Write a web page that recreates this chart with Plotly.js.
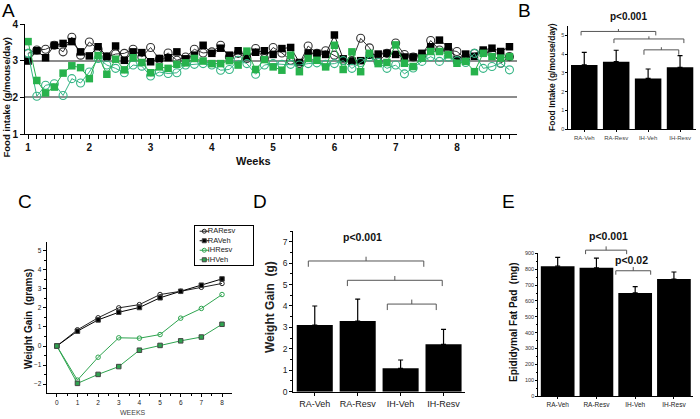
<!DOCTYPE html>
<html><head><meta charset="utf-8">
<script src="https://cdn.plot.ly/plotly-3.0.1.min.js"></script>
<style>html,body{margin:0;padding:0;background:#fff}#chart{width:700px;height:419px}</style>
</head><body><div id="chart"></div>
<script>
const FONT = 'Liberation Sans, Arial, sans-serif';

// ---------- Panel A: daily food intake (g/mouse/day) ----------
const aDayIndex = [0,1,2,3,4,5,6,7,8,9,10,11,12,13,14,15,16,17,18,19,20,21,22,23,24,25,26,27,
  28,29,30,31,32,33,34,35,36,37,38,39,40,41,42,43,44,45,46,47,48,49,50,51,52,53,54,55];
const aRAVeh  = [2.99,3.27,3.08,3.42,3.47,3.52,3.24,3.13,3.38,3.12,3.40,3.01,3.24,3.22,2.97,3.06,3.08,3.24,3.05,3.15,3.42,3.20,3.34,3.15,3.27,3.11,3.23,3.27,3.17,3.33,3.36,2.95,3.21,3.20,3.17,3.70,3.05,2.99,3.00,3.15,3.18,3.20,3.17,3.10,3.10,3.20,3.38,3.56,3.38,3.02,3.18,3.12,3.29,3.34,3.25,3.38];
const aRAResv = [3.20,3.29,3.31,3.42,3.24,3.64,3.15,3.51,3.31,3.10,3.18,3.20,3.31,3.10,3.36,3.04,3.21,3.01,3.10,3.31,3.21,3.24,3.42,3.10,3.20,3.06,3.33,3.06,3.36,3.21,3.01,2.92,3.40,3.20,3.27,3.15,3.01,3.00,3.61,3.35,2.97,3.20,3.48,3.17,3.10,3.15,3.55,3.29,3.29,3.25,3.05,3.20,3.25,3.20,2.93,3.11];
const aIHVeh  = [3.52,2.46,2.12,2.28,2.66,2.86,2.81,2.51,3.14,2.63,3.04,2.75,3.08,2.95,2.67,2.83,2.79,2.90,2.94,3.06,2.99,2.92,2.92,3.00,2.88,3.26,2.76,3.03,2.83,2.74,3.15,2.70,3.06,3.01,2.83,3.42,2.76,3.24,2.70,3.20,2.92,2.95,3.43,2.93,2.84,3.07,3.25,3.25,3.16,2.93,2.98,2.70,3.20,3.11,3.07,3.11];
const aIHResv = [3.20,2.03,2.33,2.37,2.05,2.51,2.39,2.69,3.06,2.88,2.79,2.67,2.88,2.85,2.58,2.69,2.65,2.67,2.88,2.90,2.92,2.88,2.74,2.76,3.01,2.92,2.63,2.88,2.92,2.90,2.90,2.88,2.92,2.94,2.90,2.92,3.00,2.79,2.95,3.10,2.95,2.79,2.88,2.64,2.80,2.98,3.11,2.98,3.10,3.00,2.95,3.20,2.79,2.84,2.93,2.75];
const aWeeks = aDayIndex.map(d => 1 + d / 7);

// ---------- Bar panel categories ----------
const groups = ['RA-Veh', 'RA-Resv', 'IH-Veh', 'IH-Resv'];

// ---------- Panel B: mean food intake ----------
const bMean = [3.43, 3.60, 2.71, 3.30];
const bErr  = [0.67, 0.61, 0.50, 0.62];

// ---------- Panel C: weight gain over weeks ----------
const cWeeks  = [0, 1, 2, 3, 4, 5, 6, 7, 8];
const cRAResv = [0, 0.85, 1.48, 2.00, 2.17, 2.70, 2.87, 3.08, 3.28];
const cRAVeh  = [0, 0.78, 1.37, 1.77, 2.02, 2.53, 2.87, 3.19, 3.52];
const cIHResv = [0, -1.79, -0.59, 0.43, 0.41, 0.60, 1.46, 1.97, 2.70];
const cIHVeh  = [0, -1.96, -1.49, -1.08, -0.22, 0.03, 0.27, 0.47, 1.14];
const cNames  = ['RAResv', 'RAVeh', 'IHResv', 'IHVeh'];

// ---------- Panel D: total weight gain (g) ----------
const dMean = [3.11, 3.30, 1.09, 2.21];
const dErr  = [0.89, 1.02, 0.39, 0.70];

// ---------- Panel E: epididymal fat pad (mg) ----------
const eMean = [820, 810, 651, 739];
const eErr  = [55, 61, 40, 44];

// ---------- styles ----------
const BLK = '#1a1a1a';
const GSQ = '#27b24c';
const GCI = '#35b585';
const GC  = '#2ea44f';

const traces = [];
// A
traces.push({x: aWeeks, y: aRAResv, xaxis: 'x', yaxis: 'y', mode: 'lines+markers',
  line: {color: '#333', width: 1}, marker: {symbol: 'circle-open', size: 8, color: '#333', line: {width: 1.1}}});
traces.push({x: aWeeks, y: aRAVeh, xaxis: 'x', yaxis: 'y', mode: 'lines+markers',
  line: {color: BLK, width: 1}, marker: {symbol: 'square', size: 7.5, color: '#000'}});
traces.push({x: aWeeks, y: aIHResv, xaxis: 'x', yaxis: 'y', mode: 'lines+markers',
  line: {color: GCI, width: 1}, marker: {symbol: 'circle-open', size: 8, color: GCI, line: {width: 1.1}}});
traces.push({x: aWeeks, y: aIHVeh, xaxis: 'x', yaxis: 'y', mode: 'lines+markers',
  line: {color: GSQ, width: 1}, marker: {symbol: 'square', size: 7.5, color: GSQ}});

function barTrace(ax, vals, errs, width) {
  return {type: 'bar', x: groups, y: vals, xaxis: 'x' + ax, yaxis: 'y' + ax, width: width,
    marker: {color: '#000', line: {width: 0}},
    error_y: {type: 'data', symmetric: false, array: errs, arrayminus: errs.map(() => 0),
      color: '#000', thickness: 1.2, width: 2.5}};
}
traces.push(barTrace(2, bMean, bErr, 0.83));
traces.push(barTrace(4, dMean, dErr, 0.84));
traces.push(barTrace(5, eMean, eErr, 0.87));

// C
const cSeries = [
  {y: cRAResv, color: '#222', sym: 'circle-open'},
  {y: cRAVeh,  color: '#000', sym: 'square'},
  {y: cIHResv, color: GC, sym: 'circle-open'},
  {y: cIHVeh,  color: GC, sym: 'square'}
];
cSeries.forEach(s => traces.push({x: cWeeks, y: s.y, xaxis: 'x3', yaxis: 'y3', mode: 'lines+markers',
  line: {color: s.color, width: 1}, marker: {symbol: s.sym, size: 4.5, color: s.color, line: {width: 1}}}));

// manual legend for C (its own tiny axes)
cSeries.forEach((s, i) => {
  traces.push({x: [0.08, 0.24], y: [i + 1, i + 1], xaxis: 'x6', yaxis: 'y6', mode: 'lines',
    line: {color: s.color, width: 1}, hoverinfo: 'skip'});
  traces.push({x: [0.16], y: [i + 1], xaxis: 'x6', yaxis: 'y6', mode: 'markers+text',
    marker: {symbol: s.sym, size: 4, color: s.color, line: {width: 1}},
    text: [cNames[i]], textposition: 'middle right', textfont: {family: FONT, size: 7.5, color: '#222'}});
});

// ---------- brackets ----------
const ranges = {
  2: {x: [-0.5, 3.5], y: [0, 5.5]},
  4: {x: [-0.5, 3.5], y: [0, 7.5]},
  5: {x: [-0.5, 3.5], y: [0, 905]}
};
// [panel, xStart, xEnd, level, endDrop, centerTick]
const bracketsB = [[-0.10, 2.24, 5.21, 5.00, 5.34], [0.93, 3.12, 4.81, 4.59, 4.95], [1.87, 2.96, 4.23, 3.97, 4.37]];
const bracketsD = [[-0.15, 2.54, 6.10, 5.83, 6.30], [0.76, 2.97, 5.20, 4.93, 5.40], [1.69, 2.83, 4.09, 3.81, 4.30]];
const bracketsE = [[0.72, 1.78, 921, 896, 945], [1.50, 2.40, 791, 766, 815]];

function frac(v, r) { return (v - r[0]) / (r[1] - r[0]); }
function bracket(ax, b) {
  const r = ranges[ax];
  const X = v => frac(v, r.x), Y = v => frac(v, r.y);
  const [x0, x1, y, yd, yt] = b;
  const base = {type: 'line', xref: 'x' + ax + ' domain', yref: 'y' + ax + ' domain', line: {color: '#555', width: 1}};
  const xm = (x0 + x1) / 2;
  return [
    Object.assign({}, base, {x0: X(x0), x1: X(x0), y0: Y(yd), y1: Y(y)}),
    Object.assign({}, base, {x0: X(x0), x1: X(x1), y0: Y(y), y1: Y(y)}),
    Object.assign({}, base, {x0: X(x1), x1: X(x1), y0: Y(y), y1: Y(yd)}),
    Object.assign({}, base, {x0: X(xm), x1: X(xm), y0: Y(y), y1: Y(yt)})
  ];
}
let shapes = [];
bracketsB.forEach(b => shapes = shapes.concat(bracket(2, b)));
bracketsD.forEach(b => shapes = shapes.concat(bracket(4, b)));
bracketsE.forEach(b => shapes = shapes.concat(bracket(5, b)));

// ---------- annotations ----------
const W = 700, H = 419;
function ann(text, px, py, size, opts) {
  return Object.assign({text: text, xref: 'paper', yref: 'paper', x: px / W, y: 1 - py / H,
    xanchor: 'center', yanchor: 'middle', showarrow: false,
    font: {family: FONT, size: size, color: '#000'}}, opts || {});
}
const bold = (c) => ({family: FONT, weight: 700, color: c || '#000'});
const annotations = [
  ann('A', 8.5, 10, 19), ann('B', 524, 10, 19), ann('C', 25, 201, 19), ann('D', 260, 201, 19), ann('E', 508, 201, 19),
  ann('Food intake (g/mouse/day)', 6.5, 98, 9.5, {textangle: -90, font: Object.assign(bold('#111'), {size: 9.5})}),
  ann('Weeks', 253, 161, 11, {font: Object.assign(bold('#111'), {size: 11})}),
  ann('p<0.001', 628, 17, 10, {font: Object.assign(bold('#111'), {size: 10})}),
  ann('Food Intake (g/mouse/day)', 552, 77, 8.5, {textangle: -90, font: Object.assign(bold('#111'), {size: 8.5})}),
  ann('Weight Gain  (grams)', 28, 319, 10, {textangle: -90, font: Object.assign(bold('#111'), {size: 10})}),
  ann('WEEKS', 133, 412, 7, {font: {family: FONT, size: 7, color: '#444'}}),
  ann('p<0.001', 362, 237, 10.5, {font: Object.assign(bold('#111'), {size: 10.5})}),
  ann('Weight Gain  (g)', 270, 307, 12, {textangle: -90, font: Object.assign(bold('#222'), {size: 12})}),
  ann('p<0.001', 608, 236, 10.5, {font: Object.assign(bold('#111'), {size: 10.5})}),
  ann('p<0.02', 631, 260, 10.5, {font: Object.assign(bold('#111'), {size: 10.5})}),
  ann('Epididymal Fat Pad  (mg)', 513, 323, 10, {textangle: -90, font: Object.assign(bold('#111'), {size: 10})})
];

function dom(a, b, total) { return [a / total, b / total]; }
function ydom(top, bottom) { return [1 - bottom / H, 1 - top / H]; }
const axBase = {showline: true, linecolor: '#000', linewidth: 1, showgrid: false, zeroline: false,
  ticks: 'outside', tickcolor: '#000', fixedrange: true};

const layout = {
  width: W, height: H, margin: {l: 0, r: 0, t: 0, b: 0},
  paper_bgcolor: '#fff', plot_bgcolor: 'rgba(0,0,0,0)', showlegend: false,
  font: {family: FONT, color: '#000'},
  xaxis: Object.assign({}, axBase, {domain: dom(25, 517, W), anchor: 'y', range: [0.95, 8.98],
    tick0: 1, dtick: 1, ticklen: 4, tickwidth: 1, tickfont: {family: FONT, size: 10, weight: 700, color: '#111'},
    minor: {tick0: 1, dtick: 1 / 7, ticks: 'outside', ticklen: 4, tickcolor: '#000', showgrid: false}}),
  yaxis: Object.assign({}, axBase, {domain: ydom(24, 134), anchor: 'x', range: [1, 4], tickvals: [1, 2, 3, 4],
    ticklen: 4, showgrid: true, gridcolor: '#8c8c8c', gridwidth: 2,
    tickfont: {family: FONT, size: 10, weight: 700, color: '#111'}}),

  xaxis2: Object.assign({}, axBase, {domain: dom(568.3, 696, W), anchor: 'y2', type: 'category', range: [-0.5, 3.5],
    ticklen: 2, tickfont: {family: FONT, size: 6, color: '#444'}}),
  yaxis2: Object.assign({}, axBase, {domain: ydom(26, 129.3), anchor: 'x2', range: [0, 5.5], dtick: 1,
    ticklen: 2, tickfont: {family: FONT, size: 5.5, color: '#444'}}),

  xaxis3: Object.assign({}, axBase, {domain: dom(46.7, 231.7, W), anchor: 'y3', range: [-0.49, 8.47], dtick: 1,
    ticklen: 3, tickfont: {family: FONT, size: 6.5, color: '#222'},
    minor: {dtick: 0.5, ticks: 'outside', ticklen: 2, tickcolor: '#000'}}),
  yaxis3: Object.assign({}, axBase, {domain: ydom(242.3, 392.7), anchor: 'x3', range: [-2.45, 5.44], dtick: 1,
    ticklen: 3, tickfont: {family: FONT, size: 6.5, color: '#222'},
    minor: {dtick: 0.5, ticks: 'outside', ticklen: 2, tickcolor: '#000'}}),

  xaxis4: Object.assign({}, axBase, {domain: dom(293.3, 465, W), anchor: 'y4', type: 'category', range: [-0.5, 3.5],
    ticklen: 3, tickfont: {family: FONT, size: 9, color: '#222'}}),
  yaxis4: Object.assign({}, axBase, {domain: ydom(231, 391.7), anchor: 'x4', range: [0, 7.5], dtick: 1,
    ticklen: 3, tickfont: {family: FONT, size: 8.5, color: '#222'},
    minor: {dtick: 0.5, ticks: 'outside', ticklen: 2, tickcolor: '#000'}}),

  xaxis5: Object.assign({}, axBase, {domain: dom(538.3, 693.3, W), anchor: 'y5', type: 'category', range: [-0.5, 3.5],
    ticklen: 2, tickfont: {family: FONT, size: 6.5, color: '#222'}}),
  yaxis5: Object.assign({}, axBase, {domain: ydom(252.7, 396), anchor: 'x5', range: [0, 905], dtick: 100,
    ticklen: 2, tickfont: {family: FONT, size: 5.5, color: '#333'},
    minor: {dtick: 50, ticks: 'outside', ticklen: 1.5, tickcolor: '#000'}}),

  xaxis6: {domain: dom(195, 253, W), anchor: 'y6', range: [0, 1], showline: true, mirror: true, linecolor: '#000',
    linewidth: 1, showgrid: false, zeroline: false, showticklabels: false, ticks: '', fixedrange: true},
  yaxis6: {domain: ydom(226, 265), anchor: 'x6', range: [4.55, 0.45], showline: true, mirror: true, linecolor: '#000',
    linewidth: 1, showgrid: false, zeroline: false, showticklabels: false, ticks: '', fixedrange: true},

  shapes: shapes,
  annotations: annotations
};

Plotly.newPlot('chart', traces, layout, {staticPlot: true, displayModeBar: false});
</script>
</body></html>
